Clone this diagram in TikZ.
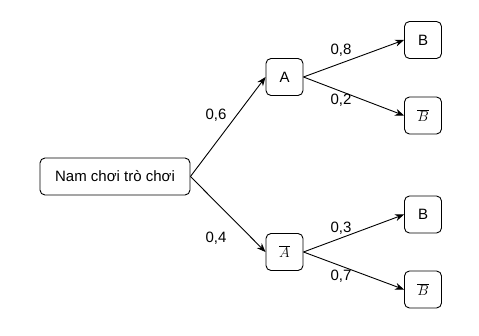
\documentclass[tikz,border=0pt]{standalone}
\usepackage{fontspec}
\setmainfont{Liberation Sans}
\usetikzlibrary{arrows.meta}
\begin{document}
\begin{tikzpicture}[x=1pt,y=-1pt,
  box/.style={draw,rounded corners=5pt,line width=0.9pt,inner sep=0pt,font=\fontsize{15}{18}\selectfont},
  sbox/.style={box,minimum width=37pt,minimum height=37pt},
  conn/.style={line width=0.9pt,-{Stealth[length=9pt,width=7pt]}},
  lab/.style={font=\fontsize{15}{18}\selectfont,inner sep=0pt}]
\useasboundingbox (0,0) rectangle (479,336);
\node[box,minimum width=150pt,minimum height=37pt] (root) at (115,176.5) {Nam chơi trò chơi};
\node[sbox] (A) at (284.5,77) {A};
\node[sbox] (Ab) at (284.5,252) {$\overline{A}$};
\node[sbox] (B1) at (423,40) {B};
\node[sbox] (B1b) at (423,115.5) {$\overline{B}$};
\node[sbox] (B2) at (423,214.5) {B};
\node[sbox] (B2b) at (423,289.5) {$\overline{B}$};
\draw[conn] (root.east) -- (A.west);
\draw[conn] (root.east) -- (Ab.west);
\draw[conn] (A.east) -- (B1.west);
\draw[conn] (A.east) -- (B1b.west);
\draw[conn] (Ab.east) -- (B2.west);
\draw[conn] (Ab.east) -- (B2b.west);
\node[lab] (l1) at (216,115) {0,6};
\node[lab] (l2) at (216,238) {0,4};
\node[lab] (l3) at (341,50) {0,8};
\node[lab] (l4) at (341,100) {0,2};
\node[lab] (l5) at (341,228) {0,3};
\node[lab] (l6) at (341,276) {0,7};
\end{tikzpicture}
\end{document}
